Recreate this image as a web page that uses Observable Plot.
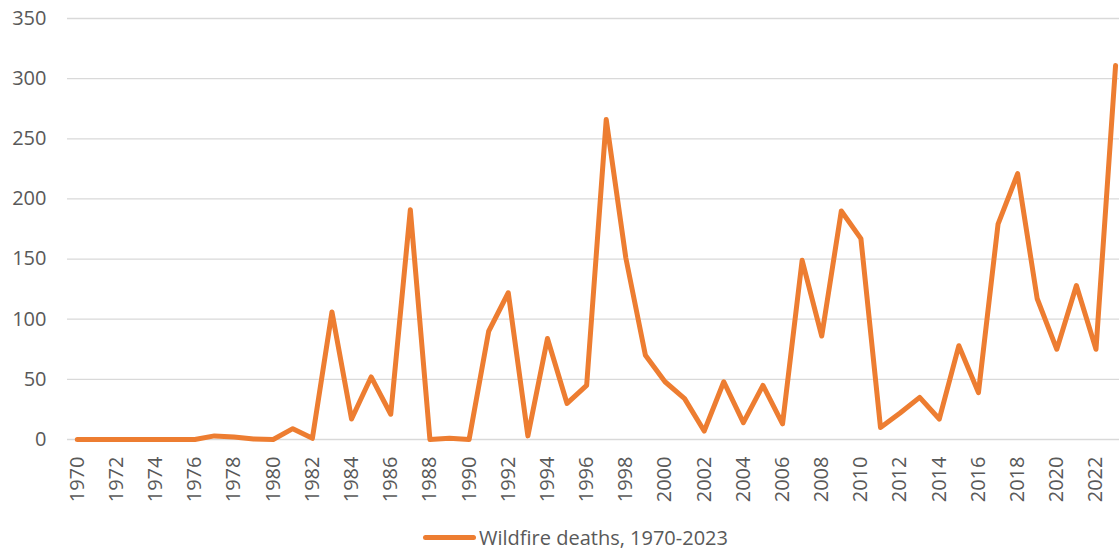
<!DOCTYPE html>
<html><head><meta charset="utf-8">
<script src="https://cdn.jsdelivr.net/npm/d3@7"></script>
<script src="https://cdn.jsdelivr.net/npm/@observablehq/plot@0.6"></script>
<style>
html,body{margin:0;padding:0;background:#fff;overflow:hidden}
#chart svg{display:block}
#legend{position:relative;height:50px;font-family:"Open Sans",sans-serif;font-size:20px;color:#595959}
#legend .item{position:absolute;left:423px;top:12px;display:flex;align-items:center;white-space:nowrap}
#legend .sw{width:53px;height:5px;background:#ED7D31;border-radius:3px;margin-right:3px}
</style></head>
<body>
<div id="chart"></div>
<div id="legend"><div class="item"><span class="sw"></span><span id="legtext"></span></div></div>
<script>
const seriesName = "Wildfire deaths, 1970-2023";
const years = [1970,1971,1972,1973,1974,1975,1976,1977,1978,1979,1980,1981,1982,1983,1984,1985,1986,1987,1988,1989,1990,1991,1992,1993,1994,1995,1996,1997,1998,1999,2000,2001,2002,2003,2004,2005,2006,2007,2008,2009,2010,2011,2012,2013,2014,2015,2016,2017,2018,2019,2020,2021,2022,2023];
const deaths = [0,0,0,0,0,0,0,3,2,0.5,0,9,1,106,17,52,21,191,0,1,0,90,122,3,84,30,45,266,151,70,48,34,7,48,14,45,13,149,86,190,167,10,22,35,17,78,39,179,221,117,75,128,75,311];
const xTicks = [1970,1972,1974,1976,1978,1980,1982,1984,1986,1988,1990,1992,1994,1996,1998,2000,2002,2004,2006,2008,2010,2012,2014,2016,2018,2020,2022];
const yTicks = [0,50,100,150,200,250,300,350];

document.getElementById("legtext").textContent = seriesName;
const data = years.map((y,i)=>({year:y, value:deaths[i]}));

const chart = Plot.plot({
  width: 1119,
  height: 512,
  marginLeft: 67,
  marginRight: 0,
  marginTop: 18,
  marginBottom: 73,
  style: {fontFamily: '"Open Sans", sans-serif', fontSize: "20px", color: "#595959", background: "#fff"},
  x: {domain: [1969.5, 2023.2], label: null},
  y: {domain: [0, 350], label: null},
  marks: [
    Plot.gridY(yTicks, {stroke: "#d9d9d9", strokeOpacity: 1, strokeWidth: 1.3}),
    Plot.axisY(yTicks, {tickSize: 0, tickPadding: 21, fill: "#595959", fontSize: 20, label: null}),
    Plot.axisX(xTicks, {tickSize: 0, tickPadding: 17, tickRotate: -90, tickFormat: d => String(d), fill: "#595959", fontSize: 20, label: null}),
    Plot.line(data, {x: "year", y: "value", stroke: "#ED7D31", strokeWidth: 5, strokeLinejoin: "round", strokeLinecap: "round"})
  ]
});
document.getElementById("chart").appendChild(chart);
</script>
</body></html>
